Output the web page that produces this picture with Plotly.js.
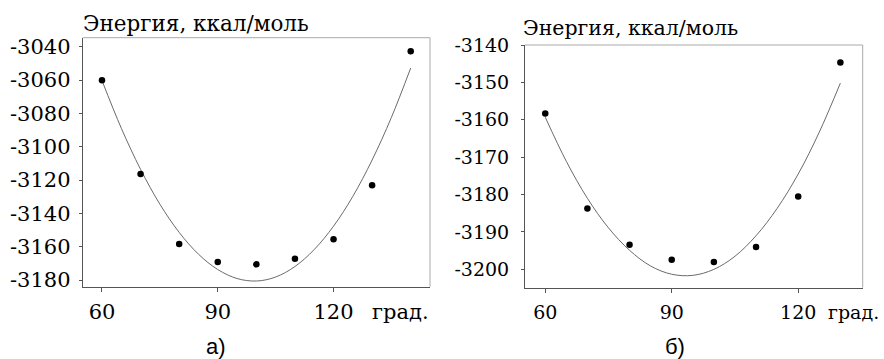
<!DOCTYPE html>
<html>
<head>
<meta charset="utf-8">
<script src="https://cdn.plot.ly/plotly-3.0.1.min.js"></script>
<style>
html,body{margin:0;padding:0;background:#fff;}
#chart{width:884px;height:359px;}
</style>
</head>
<body>
<div id="chart"></div>
<script>
// Panel a) data points
const anglesA = [60, 70, 80, 90, 100, 110, 120, 130, 140];
const energyA = [-3060.2, -3116.4, -3158.4, -3169.2, -3170.6, -3167.2, -3155.6, -3123.2, -3042.8];
// Panel a) fitted curve (read from picture)
const curveXA = [60, 65, 70, 75, 80, 85, 90, 95, 100, 105, 110, 115, 120, 125, 130, 135, 140];
const curveYA = [-3060.3, -3088.9, -3113.6, -3134.5, -3151.4, -3164.5, -3173.7, -3179.1, -3180.6, -3178.2, -3171.9, -3161.7, -3147.7, -3129.8, -3108.0, -3082.4, -3052.8];

// Panel б) data points
const anglesB = [60, 70, 80, 90, 100, 110, 120, 130];
const energyB = [-3158.3, -3183.7, -3193.4, -3197.4, -3198.0, -3194.0, -3180.5, -3144.7];
// Panel б) fitted curve (read from picture)
const curveXB = [60, 65, 70, 75, 80, 85, 90, 95, 100, 105, 110, 115, 120, 125, 130];
const curveYB = [-3159.3, -3171.1, -3181.0, -3188.9, -3194.9, -3199.1, -3201.3, -3201.6, -3200.0, -3196.5, -3191.0, -3183.7, -3174.5, -3163.3, -3150.2];

// Tick labels
const xTickVals = [60, 90, 120];
const xTickText = ['60', '90', '120'];
const yTickValsA = [-3040, -3060, -3080, -3100, -3120, -3140, -3160, -3180];
const yTickTextA = ['-3040', '-3060', '-3080', '-3100', '-3120', '-3140', '-3160', '-3180'];
const yTickValsB = [-3140, -3150, -3160, -3170, -3180, -3190, -3200];
const yTickTextB = ['-3140', '-3150', '-3160', '-3170', '-3180', '-3190', '-3200'];

const yTitle = 'Энергия, ккал/моль';
const xUnit = 'град.';
const panelLabels = ['а)', 'б)'];

const serif = 'DejaVu Serif';
const sans = 'Liberation Sans';
const W = 884, H = 359;
const px = v => v / W;
const py = v => (H - v) / H;

const curveLine = {color: '#6a6a6a', width: 1};
const markerStyle = {color: '#000', size: 6.5};

const traces = [
  {x: curveXA, y: curveYA, mode: 'lines', line: Object.assign({shape: 'spline'}, curveLine), xaxis: 'x', yaxis: 'y', hoverinfo: 'skip'},
  {x: anglesA, y: energyA, mode: 'markers', marker: markerStyle, xaxis: 'x', yaxis: 'y'},
  {x: curveXB, y: curveYB, mode: 'lines', line: Object.assign({shape: 'spline'}, curveLine), xaxis: 'x2', yaxis: 'y2', hoverinfo: 'skip'},
  {x: anglesB, y: energyB, mode: 'markers', marker: markerStyle, xaxis: 'x2', yaxis: 'y2'}
];

const axisCommon = {
  showgrid: false, zeroline: false, showline: true, linecolor: '#555', linewidth: 1,
  ticks: 'outside', tickcolor: '#555', tickwidth: 1,
  tickmode: 'array', fixedrange: true
};
const fontA = {family: serif, size: 21, color: '#000'};
const fontB = {family: serif, size: 19, color: '#000'};

const layout = {
  width: W, height: H,
  margin: {l: 0, r: 0, t: 0, b: 0},
  paper_bgcolor: '#fff', plot_bgcolor: '#fff',
  font: {family: serif, size: 20, color: '#000'},
  showlegend: false,
  xaxis: Object.assign({}, axisCommon, {
    domain: [px(82.7), px(430)], range: [55, 145], anchor: 'y', tickfont: fontA,
    tickvals: xTickVals, ticktext: xTickText, ticklen: 4, ticklabelstandoff: 2
  }),
  yaxis: Object.assign({}, axisCommon, {
    domain: [py(286.7), py(37.7)], range: [-3184, -3034.6], anchor: 'x', tickfont: fontA,
    tickvals: yTickValsA, ticktext: yTickTextA, ticklen: 3, ticklabelstandoff: 4
  }),
  xaxis2: Object.assign({}, axisCommon, {
    domain: [px(525), px(862.7)], range: [55.2, 135.3], anchor: 'y2', tickfont: fontB,
    tickvals: xTickVals, ticktext: xTickText, ticklen: 4, ticklabelstandoff: 3
  }),
  yaxis2: Object.assign({}, axisCommon, {
    domain: [py(287.7), py(45)], range: [-3204.9, -3140], anchor: 'x2', tickfont: fontB,
    tickvals: yTickValsB, ticktext: yTickTextB, ticklen: 3, ticklabelstandoff: 8
  }),
  shapes: [
    {type: 'line', xref: 'x domain', yref: 'y domain', x0: 0, x1: 1, y0: 1, y1: 1, line: {color: '#aaa', width: 1}},
    {type: 'line', xref: 'x domain', yref: 'y domain', x0: 1, x1: 1, y0: 0, y1: 1, line: {color: '#aaa', width: 1}},
    {type: 'line', xref: 'x2 domain', yref: 'y2 domain', x0: 0, x1: 1, y0: 1, y1: 1, line: {color: '#aaa', width: 1}},
    {type: 'line', xref: 'x2 domain', yref: 'y2 domain', x0: 1, x1: 1, y0: 0, y1: 1, line: {color: '#aaa', width: 1}}
  ],
  annotations: [
    {text: yTitle, xref: 'paper', yref: 'paper', x: px(81), y: py(23), xanchor: 'left', yanchor: 'middle', showarrow: false, font: {family: serif, size: 21.5, color: '#000'}},
    {text: yTitle, xref: 'paper', yref: 'paper', x: px(521), y: py(28), xanchor: 'left', yanchor: 'middle', showarrow: false, font: {family: serif, size: 20.5, color: '#000'}},
    {text: xUnit, xref: 'paper', yref: 'paper', x: px(370), y: py(312), xanchor: 'left', yanchor: 'middle', showarrow: false, font: {family: serif, size: 21, color: '#000'}},
    {text: xUnit, xref: 'paper', yref: 'paper', x: px(826), y: py(312), xanchor: 'left', yanchor: 'middle', showarrow: false, font: {family: serif, size: 19, color: '#000'}},
    {text: panelLabels[0], xref: 'paper', yref: 'paper', x: px(216), y: py(346), xanchor: 'center', yanchor: 'middle', showarrow: false, font: {family: sans, size: 22, color: '#000'}},
    {text: panelLabels[1], xref: 'paper', yref: 'paper', x: px(675), y: py(346), xanchor: 'center', yanchor: 'middle', showarrow: false, font: {family: sans, size: 22, color: '#000'}}
  ]
};

Plotly.newPlot('chart', traces, layout, {displayModeBar: false, staticPlot: true});
</script>
</body>
</html>
